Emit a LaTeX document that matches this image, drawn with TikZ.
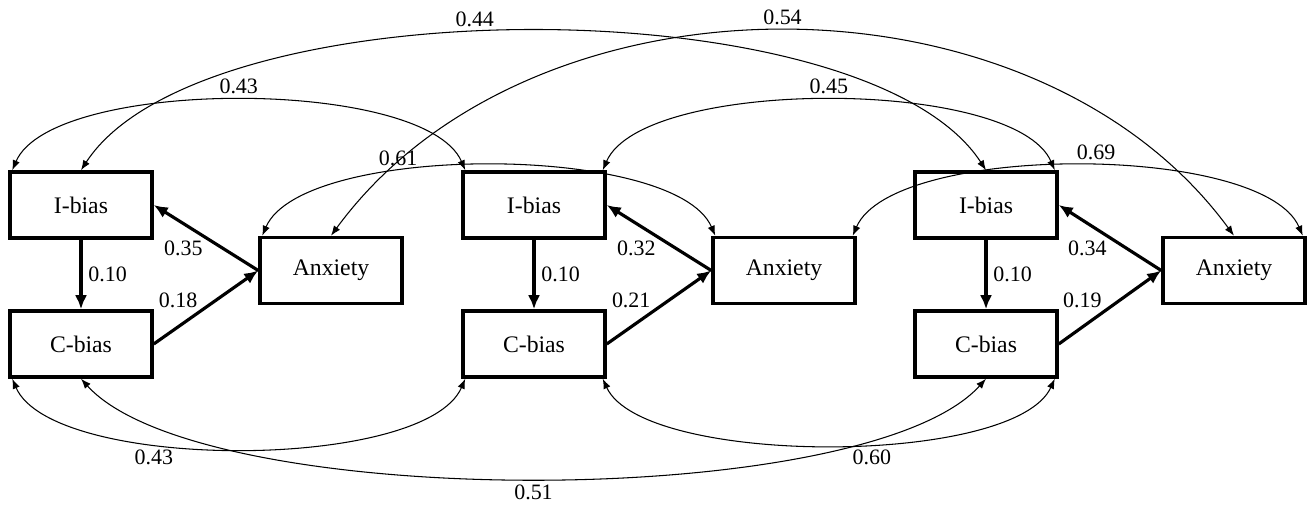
\documentclass[tikz,border=0pt]{standalone}
\usepackage{fontspec}
\setmainfont{Liberation Serif}
\usetikzlibrary{arrows.meta}
\begin{document}
\begin{tikzpicture}[>={Latex[length=2mm,width=1.5mm]},
    box/.style={draw, line width=2pt, minimum width=2.84cm, minimum height=1.32cm, font=\fontsize{13.5}{15}\selectfont},
    regr/.style={line width=1.8pt, -{Latex[length=2.8mm,width=2.4mm]}},
    corr/.style={line width=.6pt, <->},
    lab/.style={font=\fontsize{12.5}{15}\selectfont}]
\useasboundingbox (0,0) rectangle (26.2,10.2);
% three waves
\node[box] (I1) at (1.62,6.1){I-bias};
\node[box] (C1) at (1.62,3.32){C-bias};
\node[box] (A1) at (6.62,4.79){Anxiety};
\node[box] (I2) at (10.68,6.1){I-bias};
\node[box] (C2) at (10.68,3.32){C-bias};
\node[box] (A2) at (15.68,4.79){Anxiety};
\node[box] (I3) at (19.72,6.1){I-bias};
\node[box] (C3) at (19.72,3.32){C-bias};
\node[box] (A3) at (24.68,4.79){Anxiety};

\draw[regr] (I1)--node[lab,right]{0.10}(C1);
\draw[regr] (A1.west)--node[lab,below left,inner sep=1pt]{0.35}(I1.east);
\draw[regr] (C1.east)--node[lab,above left,inner sep=1pt,pos=.45]{0.18}(A1.west);
\draw[regr] (I2)--node[lab,right]{0.10}(C2);
\draw[regr] (A2.west)--node[lab,below left,inner sep=1pt]{0.32}(I2.east);
\draw[regr] (C2.east)--node[lab,above left,inner sep=1pt,pos=.45]{0.21}(A2.west);
\draw[regr] (I3)--node[lab,right]{0.10}(C3);
\draw[regr] (A3.west)--node[lab,below left,inner sep=1pt]{0.34}(I3.east);
\draw[regr] (C3.east)--node[lab,above left,inner sep=1pt,pos=.45]{0.19}(A3.west);

% covariances above
\draw[corr] ([xshift=.8mm]I1.north west) .. controls +(.8,1.86) and +(-.8,1.86) .. node[lab,above]{0.43} ([xshift=.8mm]I2.north west);
\draw[corr] (I1.north) .. controls +(2.4,3.7) and +(-2.4,3.7) .. node[lab,above,pos=.45]{0.44} (I3.north);
\draw[corr] (A1.north) .. controls +(4,5.46) and +(-4,5.46) .. node[lab,above]{0.54} (A3.north);
\draw[corr] ([xshift=-.8mm]I2.north east) .. controls +(.8,1.86) and +(-.8,1.86) .. node[lab,above]{0.45} ([xshift=-.8mm]I3.north east);
\draw[corr] ([xshift=.8mm]A1.north west) .. controls +(.8,1.86) and +(-.8,1.86) .. node[lab,above,pos=.35]{0.61} ([xshift=.8mm]A2.north west);
\draw[corr] ([xshift=-.8mm]A2.north east) .. controls +(.8,1.86) and +(-.8,1.86) .. node[lab,above,pos=.53]{0.69} ([xshift=-.8mm]A3.north east);

% covariances below
\draw[corr] ([xshift=.8mm]C1.south west) .. controls +(.8,-1.86) and +(-.8,-1.86) .. node[lab,below,pos=.36]{0.43} ([xshift=.8mm]C2.south west);
\draw[corr] (C1.south) .. controls +(2.4,-2.66) and +(-2.4,-2.66) .. node[lab,below]{0.51} (C3.south);
\draw[corr] ([xshift=-.8mm]C2.south east) .. controls +(.8,-1.76) and +(-.8,-1.76) .. node[lab,below,pos=.57]{0.60} ([xshift=-.8mm]C3.south east);
\end{tikzpicture}
\end{document}
